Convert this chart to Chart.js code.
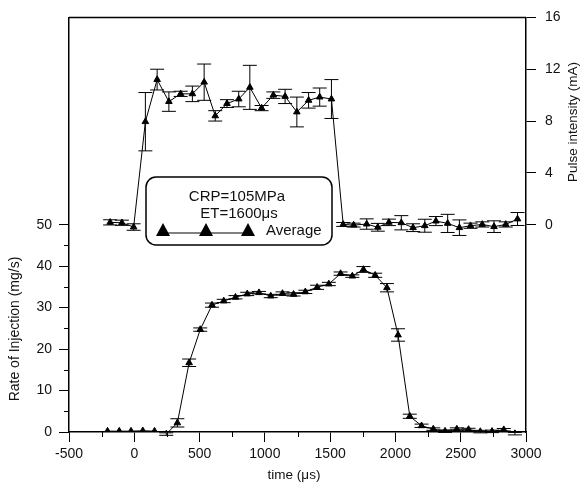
<!DOCTYPE html>
<html>
<head>
<meta charset="utf-8">
<script src="https://cdn.jsdelivr.net/npm/chart.js@4.4.0/dist/chart.umd.min.js"></script>
<style>
  html, body { margin: 0; padding: 0; background: #fff; }
  #wrap { width: 583px; height: 485px; }
</style>
</head>
<body>
<div id="wrap"><canvas id="chart" width="583" height="485"></canvas></div>
<script>
// pulse intensity (mA), right axis
var pulseTime = [-185, -95, -5, 85, 175, 265, 355, 445, 535, 620, 710, 800, 885, 975, 1065, 1155, 1245, 1335, 1420, 1510,
                 1600, 1680, 1780, 1865, 1950, 2045, 2135, 2225, 2310, 2400, 2490, 2575, 2665, 2755, 2845, 2935];
var pulseVal = [0.18, 0.15, -0.18, 7.95, 11.2, 9.5, 10.1, 10.1, 11.0, 8.4, 9.35, 9.7, 10.6, 9.0, 10.0, 9.9, 8.7, 9.6, 9.85, 9.7,
                0.02, -0.03, 0.05, -0.2, 0.18, 0.15, -0.23, -0.08, 0.28, 0.1, -0.23, -0.08, 0.02, -0.15, 0.02, 0.44];
var pulseErr = [0.2, 0.2, 0.25, 2.25, 0.8, 0.75, 0.2, 0.6, 1.4, 0.4, 0.3, 0.6, 1.7, 0.2, 0.25, 0.55, 1.15, 0.6, 0.7, 1.5,
                0.15, 0.15, 0.4, 0.3, 0.25, 0.55, 0.3, 0.5, 0.35, 0.7, 0.6, 0.2, 0.2, 0.45, 0.2, 0.5];

// rate of injection (mg/s), left axis
var rateTime = [-205, -115, -25, 65, 155, 245, 330, 420, 505, 595, 685, 775, 865, 955, 1045, 1135, 1220, 1310, 1400, 1490,
                1580, 1670, 1755, 1845, 1935, 2020, 2110, 2200, 2290, 2380, 2470, 2560, 2650, 2740, 2830, 2915];
var rateVal = [0.2, 0.2, 0.2, 0.3, 0.2, -0.5, 2.2, 16.7, 24.7, 30.6, 31.6, 32.5, 33.3, 33.6, 32.8, 33.4, 33.2, 33.8, 34.9, 35.7,
               38.2, 37.6, 39.2, 37.8, 34.8, 23.4, 3.8, 1.5, 0.7, 0.2, 0.7, 0.6, 0.1, 0.15, 0.55, -0.4];
var rateErr = [0, 0, 0, 0, 0, 0.3, 1.0, 0.9, 0.4, 0.5, 0.4, 0.4, 0.4, 0.3, 0.4, 0.4, 0.4, 0.4, 0.5, 0.4,
               0.4, 0.3, 0.7, 0.5, 1.0, 1.5, 0.5, 0.4, 0.3, 0.3, 0.3, 0.3, 0.3, 0.3, 0.3, 0.3];

var xTicks = [-500, 0, 500, 1000, 1500, 2000, 2500, 3000];
var xMinor = [-250, 250, 750, 1250, 1750, 2250, 2750];
var rateTicks = [0, 10, 20, 30, 40, 50];
var rateMinor = [5, 15, 25, 35, 45];
var pulseTicks = [0, 4, 8, 12, 16];

var FONT = "'Liberation Sans', Arial, sans-serif";
var INK = '#111';

function toPoints(xs, ys) {
    var out = [];
    for (var i = 0; i < xs.length; i++) {
        out.push({ x: xs[i], y: ys[i] });
    }
    return out;
}

var errorBars = {
    id: 'errorBars',
    beforeDatasetsDraw: function (chart) {
        var ctx = chart.ctx;
        var xs = chart.scales.x;
        var sets = [
            { t: pulseTime, v: pulseVal, e: pulseErr, s: chart.scales.y2 },
            { t: rateTime, v: rateVal, e: rateErr, s: chart.scales.y }
        ];
        ctx.save();
        ctx.strokeStyle = '#000';
        ctx.lineWidth = 1;
        sets.forEach(function (d) {
            for (var i = 0; i < d.t.length; i++) {
                if (!d.e[i]) continue;
                var px = xs.getPixelForValue(d.t[i]);
                var top = d.s.getPixelForValue(d.v[i] + d.e[i]);
                var bot = d.s.getPixelForValue(d.v[i] - d.e[i]);
                ctx.beginPath();
                ctx.moveTo(px, top); ctx.lineTo(px, bot);
                ctx.moveTo(px - 7, top); ctx.lineTo(px + 7, top);
                ctx.moveTo(px - 7, bot); ctx.lineTo(px + 7, bot);
                ctx.stroke();
            }
        });
        ctx.restore();
    }
};

var decorations = {
    id: 'decorations',
    afterDraw: function (chart) {
        var ctx = chart.ctx;
        var a = chart.chartArea;
        var xs = chart.scales.x, ys = chart.scales.y;
        ctx.save();
        ctx.strokeStyle = '#000';
        // top frame line
        ctx.lineWidth = 1.5;
        ctx.beginPath();
        ctx.moveTo(a.left, a.top); ctx.lineTo(a.right, a.top);
        ctx.stroke();
        // minor ticks
        ctx.lineWidth = 1;
        ctx.beginPath();
        xMinor.forEach(function (v) {
            var p = Math.round(xs.getPixelForValue(v)) + 0.5;
            ctx.moveTo(p, a.bottom); ctx.lineTo(p, a.bottom + 5);
        });
        rateMinor.forEach(function (v) {
            var p = Math.round(ys.getPixelForValue(v)) + 0.5;
            ctx.moveTo(a.left, p); ctx.lineTo(a.left - 5, p);
        });
        ctx.stroke();

        // axis titles
        ctx.fillStyle = INK;
        ctx.font = '13.5px ' + FONT;
        ctx.textAlign = 'center';
        ctx.textBaseline = 'middle';
        ctx.fillText('time (\u03bcs)', 294, 475);
        ctx.save();
        ctx.translate(15, 329);
        ctx.rotate(-Math.PI / 2);
        ctx.font = '14px ' + FONT;
        ctx.fillText('Rate of Injection (mg/s)', 0, 0);
        ctx.restore();
        ctx.save();
        ctx.translate(573, 122);
        ctx.rotate(-Math.PI / 2);
        ctx.fillText('Pulse intensity (mA)', 0, 0);
        ctx.restore();

        // legend box
        var bx = 146, by = 177, bw = 186, bh = 68, r = 10;
        ctx.beginPath();
        ctx.moveTo(bx + r, by);
        ctx.arcTo(bx + bw, by, bx + bw, by + bh, r);
        ctx.arcTo(bx + bw, by + bh, bx, by + bh, r);
        ctx.arcTo(bx, by + bh, bx, by, r);
        ctx.arcTo(bx, by, bx + bw, by, r);
        ctx.closePath();
        ctx.fillStyle = '#fff';
        ctx.fill();
        ctx.lineWidth = 1.5;
        ctx.stroke();
        ctx.fillStyle = INK;
        ctx.font = '15px ' + FONT;
        ctx.fillText('CRP=105MPa', 237, 197);
        ctx.fillText('ET=1600\u03bcs', 239, 214);
        ctx.textAlign = 'left';
        ctx.fillText('Average', 266, 231);
        ctx.lineWidth = 1;
        ctx.beginPath();
        ctx.moveTo(163, 233); ctx.lineTo(248, 233);
        ctx.stroke();
        ctx.fillStyle = '#000';
        [163, 206, 248].forEach(function (cx) {
            ctx.beginPath();
            ctx.moveTo(cx, 223);
            ctx.lineTo(cx + 7, 236);
            ctx.lineTo(cx - 7, 236);
            ctx.closePath();
            ctx.fill();
        });
        ctx.restore();
    }
};

var tickFont = { family: FONT, size: 14 };
function plainLabel(v) { return String(v); }

new Chart(document.getElementById('chart'), {
    type: 'line',
    data: {
        datasets: [{
            label: 'Pulse intensity',
            data: toPoints(pulseTime, pulseVal),
            yAxisID: 'y2',
            borderColor: '#000',
            borderWidth: 1,
            backgroundColor: '#000',
            pointStyle: 'triangle',
            pointRadius: 3.8,
            pointBorderWidth: 1,
            tension: 0
        }, {
            label: 'Rate of Injection',
            data: toPoints(rateTime, rateVal),
            yAxisID: 'y',
            borderColor: '#000',
            borderWidth: 1,
            backgroundColor: '#000',
            pointStyle: 'triangle',
            pointRadius: 3.8,
            pointBorderWidth: 1,
            tension: 0
        }]
    },
    options: {
        responsive: false,
        animation: false,
        devicePixelRatio: 1,
        layout: { padding: { top: 14, left: 0, right: 0, bottom: 0 } },
        plugins: {
            legend: { display: false },
            tooltip: { enabled: false }
        },
        scales: {
            x: {
                type: 'linear',
                position: 'bottom',
                min: -500,
                max: 3000,
                afterBuildTicks: function (s) { s.ticks = xTicks.map(function (v) { return { value: v }; }); },
                afterFit: function (s) { s.height = 53; },
                ticks: { font: tickFont, color: INK, padding: 4, maxRotation: 0, callback: plainLabel },
                grid: { drawOnChartArea: false, tickLength: 10, tickColor: '#000', tickWidth: 1 },
                border: { color: '#000', width: 1.5 }
            },
            y: {
                type: 'linear',
                position: 'left',
                min: 0,
                max: 100,
                afterBuildTicks: function (s) { s.ticks = rateTicks.map(function (v) { return { value: v }; }); },
                afterFit: function (s) { s.width = 69; },
                ticks: { font: tickFont, color: INK, padding: 7, callback: plainLabel },
                grid: { drawOnChartArea: false, tickLength: 10, tickColor: '#000', tickWidth: 1 },
                border: { color: '#000', width: 1.5 }
            },
            y2: {
                type: 'linear',
                position: 'right',
                min: -16,
                max: 16,
                afterBuildTicks: function (s) { s.ticks = pulseTicks.map(function (v) { return { value: v }; }); },
                afterFit: function (s) { s.width = 57; },
                ticks: { font: tickFont, color: INK, padding: 9, callback: plainLabel },
                grid: { drawOnChartArea: false, tickLength: 10, tickColor: '#000', tickWidth: 1 },
                border: { color: '#000', width: 1.5 }
            }
        }
    },
    plugins: [errorBars, decorations]
});
</script>
</body>
</html>
